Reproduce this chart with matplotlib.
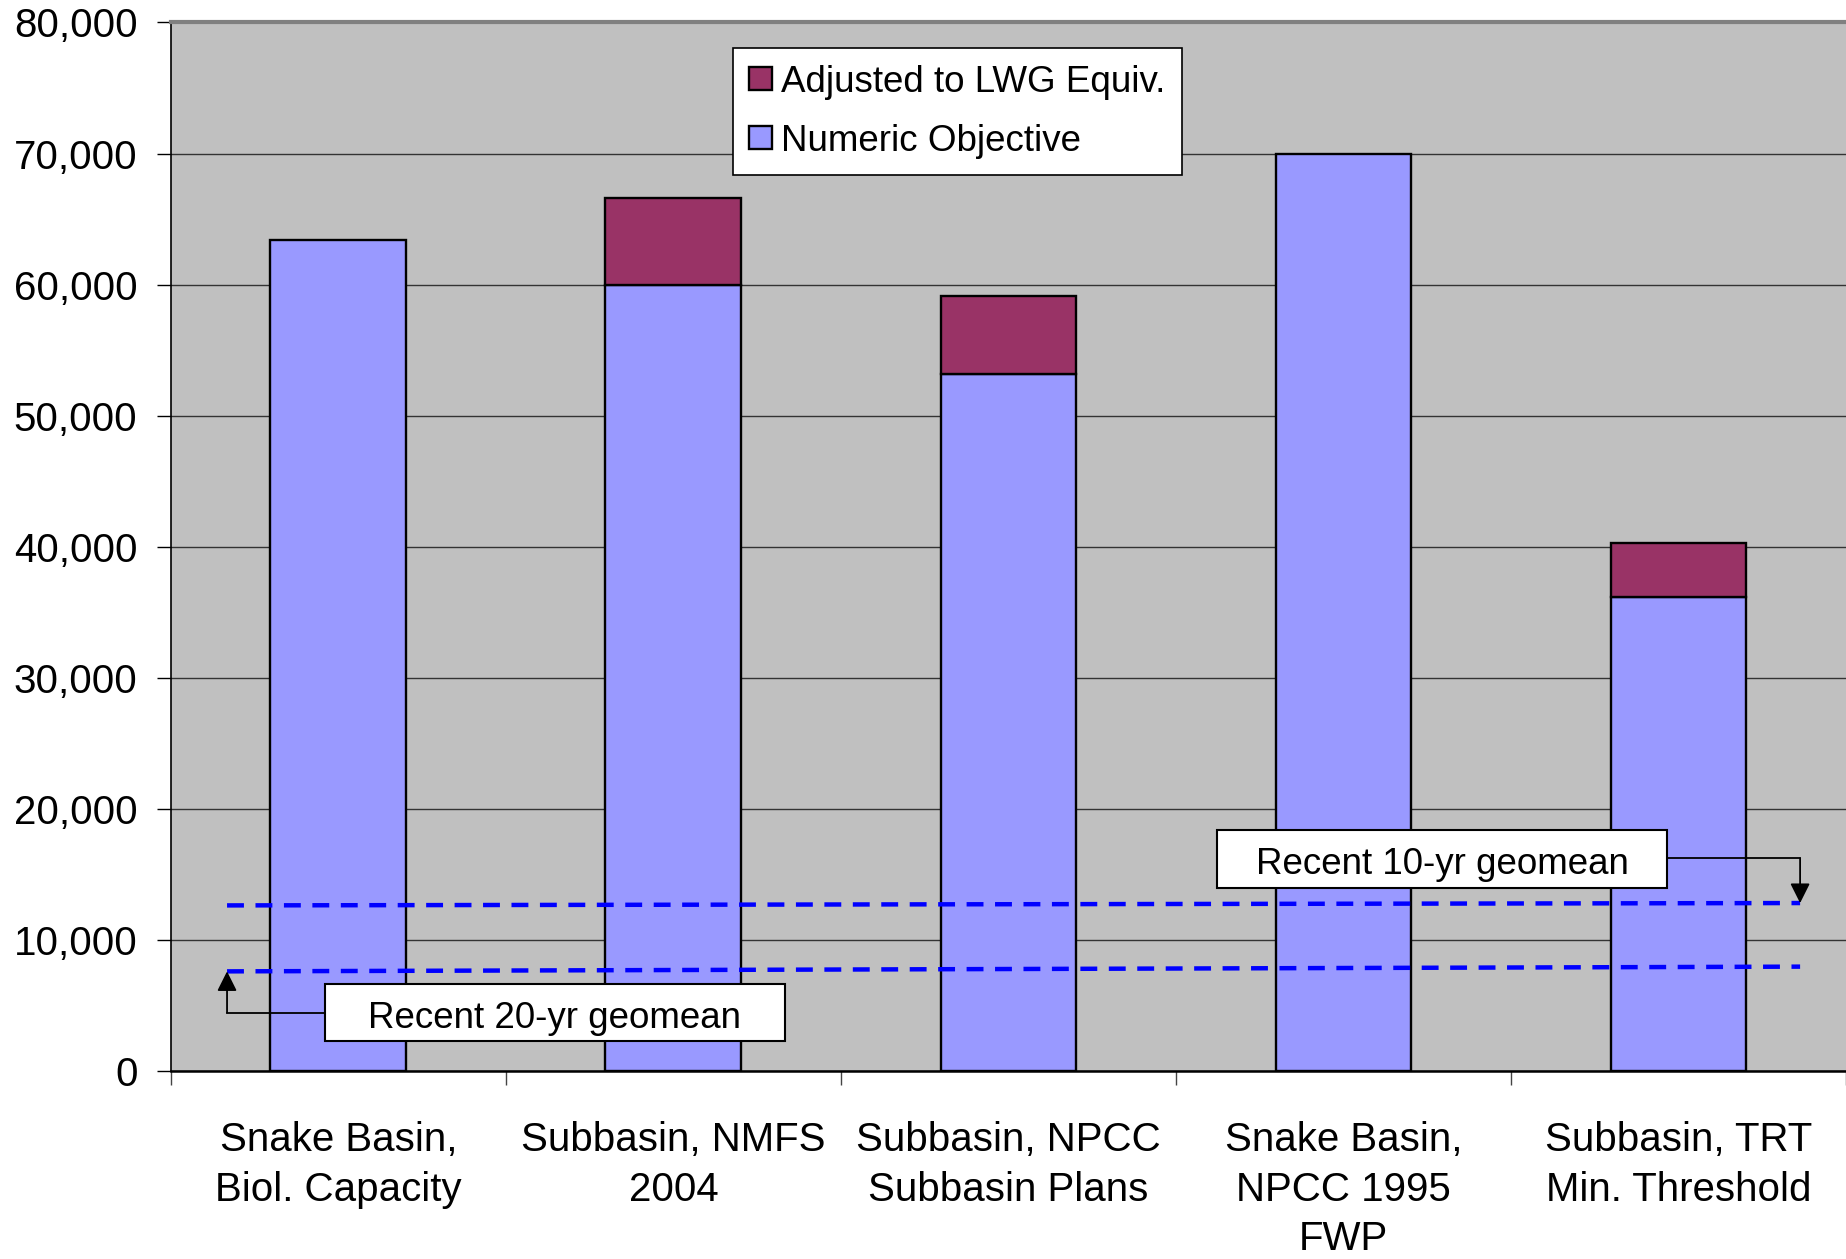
import matplotlib
matplotlib.use("Agg")
import matplotlib.pyplot as plt
from matplotlib.patches import Rectangle

plt.rcParams["font.family"] = ["Liberation Sans", "DejaVu Sans"]

# --- data ---
categories = ["Snake Basin,\nBiol. Capacity", "Subbasin, NMFS\n2004", "Subbasin, NPCC\nSubbasin Plans",
              "Snake Basin,\nNPCC 1995\nFWP", "Subbasin, TRT\nMin. Threshold"]
numeric_objective = [63400, 60000, 53200, 70000, 36200]
adjusted_total = [63400, 66600, 59100, 70000, 40300]   # top of the LWG-equivalent segment
geomean_10yr = [12660, 12840]   # left end, right end of the dashed line
geomean_20yr = [7630, 7990]
yticks = [0, 10000, 20000, 30000, 40000, 50000, 60000, 70000, 80000]

BLUE, RED, BG = "#9999FF", "#993366", "#C0C0C0"

fig = plt.figure(figsize=(18.46, 12.59), dpi=100)
ax = fig.add_axes([0.0925, 0.149, 0.9075, 0.8332])
ax.set_facecolor(BG)

x = list(range(len(categories)))
adjusted = [t - b for t, b in zip(adjusted_total, numeric_objective)]
ax.bar(x, numeric_objective, 0.405, color=BLUE, edgecolor="black", linewidth=1.7, zorder=3,
       label="Numeric Objective")
xa = [i for i, a in zip(x, adjusted) if a > 0]
ax.bar(xa, [a for a in adjusted if a > 0], 0.405, bottom=[b for b, a in zip(numeric_objective, adjusted) if a > 0],
       color=RED, edgecolor="black", linewidth=1.7, zorder=3, label="Adjusted to LWG Equiv.")

ax.set_xlim(-0.5, 4.5)
ax.set_ylim(0, 80000)
ax.set_yticks(yticks)
ax.set_yticklabels([f"{v:,}" for v in yticks], fontsize=29)
ax.yaxis.grid(True, color="#333333", linewidth=1.0, zorder=1)
ax.set_axisbelow(True)
ax.tick_params(axis="y", length=10, width=1.0, pad=14)

# x: boundary ticks as major marks, category labels as minor ticks
ax.set_xticks([i - 0.5 for i in range(len(categories) + 1)])
ax.set_xticklabels([])
ax.tick_params(axis="x", which="major", length=10, width=1.0, color="#444444")
ax.set_xticks(x, minor=True)
ax.set_xticklabels(categories, minor=True, fontsize=29, linespacing=1.38)
ax.tick_params(axis="x", which="minor", length=0, pad=36)

ax.spines["right"].set_visible(False)
ax.spines["top"].set_color("#808080")
ax.spines["top"].set_linewidth(3)
ax.spines["left"].set_linewidth(1.2)
ax.spines["bottom"].set_linewidth(1.8)

# recent geomean dashed lines
xl = [-0.332, 4.363]
dash = (0, (3.8, 2.6))
ax.plot(xl, geomean_10yr, color="#0000FF", linestyle=dash, linewidth=3.2, zorder=4)
ax.plot(xl, geomean_20yr, color="#0000FF", linestyle=dash, linewidth=3.2, zorder=4)

# callout boxes with elbow arrows
def callout(x0, x1, y0, y1, text):
    ax.add_patch(Rectangle((x0, y0), x1 - x0, y1 - y0, facecolor="white", edgecolor="black",
                           linewidth=1.5, zorder=6))
    ax.text((x0 + x1) / 2, (y0 + y1) / 2 - 450, text, ha="center", va="center", fontsize=26.5, zorder=7)

arrow = dict(arrowstyle="-|>", color="black", lw=1.3, mutation_scale=30, shrinkA=0, shrinkB=0)

callout(2.623, 3.967, 14000, 18400, "Recent 10-yr geomean")
ax.plot([3.967, 4.363], [16250, 16250], color="black", linewidth=1.3, zorder=5)
ax.annotate("", xy=(4.363, geomean_10yr[1]), xytext=(4.363, 16250), zorder=5, arrowprops=arrow)

callout(-0.040, 1.332, 2330, 6640, "Recent 20-yr geomean")
ax.plot([-0.332, -0.040], [4490, 4490], color="black", linewidth=1.3, zorder=5)
ax.annotate("", xy=(-0.332, geomean_20yr[0]), xytext=(-0.332, 4490), zorder=5, arrowprops=arrow)

# legend (Adjusted listed first)
h, l = ax.get_legend_handles_labels()
leg = fig.legend(h[::-1], l[::-1], loc="upper left", bbox_to_anchor=(0.397, 0.9617),
                 bbox_transform=fig.transFigure, borderaxespad=0, fontsize=26.5, frameon=True,
                 fancybox=False, edgecolor="black", framealpha=1, handlelength=0.6, handleheight=0.6,
                 handletextpad=0.25, labelspacing=0.65, borderpad=0.45)
leg.get_frame().set_linewidth(1.2)

fig.savefig("out.png", dpi=100)
